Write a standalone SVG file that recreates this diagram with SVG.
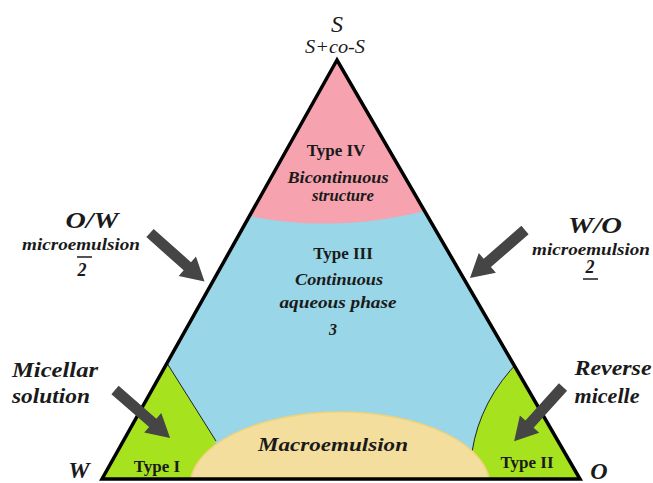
<svg xmlns="http://www.w3.org/2000/svg" xmlns:xlink="http://www.w3.org/1999/xlink" width="653" height="483" viewBox="0 0 653 483">
<style>
.lbl{font-family:"Liberation Serif",serif;fill:#1a1a1a;text-anchor:middle}
.type{font-weight:bold;font-size:17px}
.scr{font-style:italic;font-weight:bold;font-size:16px}
.big{font-style:italic;font-weight:bold;font-size:24px}
.mid{font-style:italic;font-weight:bold;font-size:21px}
.thin{fill:none;stroke:#222;stroke-width:1}
.arrow{fill:#454545}
</style>
<defs>
<clipPath id="tri"><path d="M337,60 L102,479 L580,479 Z"/></clipPath>
<polygon id="arr" points="0,-5.5 50,-5.5 50,-13 73,0 50,13 50,5.5 0,5.5"/>
</defs>
<rect width="653" height="483" fill="#fff"/>
<g id="regions" clip-path="url(#tri)">
<g id="type3"><rect x="90" y="50" width="500" height="440" fill="#98D6E8"/></g>
<g id="type4"><path d="M337,50 L240,50 L240,214 Q338,236 440,207 L440,50 Z" fill="#F6A2AF"/></g>
<g id="type1"><path d="M162,356 L216,441 L200,490 L90,490 L90,356 Z" fill="#A6E21E"/><path class="thin" d="M165,360 L216,441"/></g>
<g id="type2"><path d="M522,358 Q480,400 472,452 L470,490 L600,490 L600,358 Z" fill="#A6E21E"/><path class="thin" d="M520,360 Q480,400 472,452"/></g>
<g id="macro"><ellipse cx="340" cy="486" rx="150" ry="74" fill="#F3DE9E" stroke="#EFD27A" stroke-width="1.5"/></g>
</g>
<path d="M337,60 L102,479 L580,479 Z" fill="none" stroke="#000" stroke-width="3.5" stroke-linejoin="miter"/>
<g id="connectors">
<use href="#arr" class="arrow" transform="translate(150,233) rotate(41.7)"/>
<use href="#arr" class="arrow" transform="translate(525,230) rotate(138.9)"/>
<use href="#arr" class="arrow" transform="translate(115,390) rotate(41)"/>
<use href="#arr" class="arrow" transform="translate(563,387) rotate(132)"/>
</g>
<g id="vertexS"><text class="lbl" x="337" y="32" style="font-style:italic;font-size:24px">S</text><text class="lbl" x="335" y="53" style="font-style:italic;font-size:19px" textLength="60" lengthAdjust="spacingAndGlyphs">S+co-S</text></g>
<g id="vertexW"><text class="lbl big" x="79" y="478">W</text></g>
<g id="vertexO"><text class="lbl big" x="599" y="479">O</text></g>
<g id="typeIV"><text class="lbl type" x="336" y="156">Type IV</text><text class="lbl scr" x="338" y="183" textLength="101" lengthAdjust="spacingAndGlyphs">Bicontinuous</text><text class="lbl scr" x="343" y="201" textLength="62" lengthAdjust="spacingAndGlyphs">structure</text></g>
<g id="typeIII"><text class="lbl type" x="343" y="259">Type III</text><text class="lbl scr" x="339" y="285" textLength="88" lengthAdjust="spacingAndGlyphs">Continuous</text><text class="lbl scr" x="338" y="308" textLength="117" lengthAdjust="spacingAndGlyphs">aqueous phase</text><text class="lbl scr" x="333" y="335">3</text></g>
<g id="macroLabel"><text class="lbl" x="333" y="451" style="font-style:italic;font-weight:bold;font-size:19px" textLength="150" lengthAdjust="spacingAndGlyphs">Macroemulsion</text></g>
<g id="typeI"><text class="lbl type" x="157" y="472">Type I</text></g>
<g id="typeII"><text class="lbl type" x="527" y="468">Type II</text></g>
<g id="ow"><text class="lbl big" x="92" y="228" textLength="53" lengthAdjust="spacingAndGlyphs">O/W</text><text class="lbl scr" x="81" y="250" textLength="118" lengthAdjust="spacingAndGlyphs">microemulsion</text><text class="lbl scr" x="82" y="276" style="font-size:18px">2</text><line x1="77" y1="257" x2="92" y2="257" stroke="#1a1a1a" stroke-width="1.5"/></g>
<g id="wo"><text class="lbl big" x="595" y="233" textLength="54" lengthAdjust="spacingAndGlyphs">W/O</text><text class="lbl scr" x="591" y="255" textLength="118" lengthAdjust="spacingAndGlyphs">microemulsion</text><text class="lbl scr" x="590" y="273" style="font-size:18px">2</text><line x1="583" y1="279" x2="598" y2="279" stroke="#1a1a1a" stroke-width="1.5"/></g>
<g id="micellar"><text class="lbl mid" x="55" y="377" textLength="86" lengthAdjust="spacingAndGlyphs">Micellar</text><text class="lbl mid" x="51" y="403" textLength="78" lengthAdjust="spacingAndGlyphs">solution</text></g>
<g id="reverse"><text class="lbl mid" x="613" y="375" textLength="77" lengthAdjust="spacingAndGlyphs">Reverse</text><text class="lbl mid" x="607" y="403" textLength="65" lengthAdjust="spacingAndGlyphs">micelle</text></g>
</svg>
